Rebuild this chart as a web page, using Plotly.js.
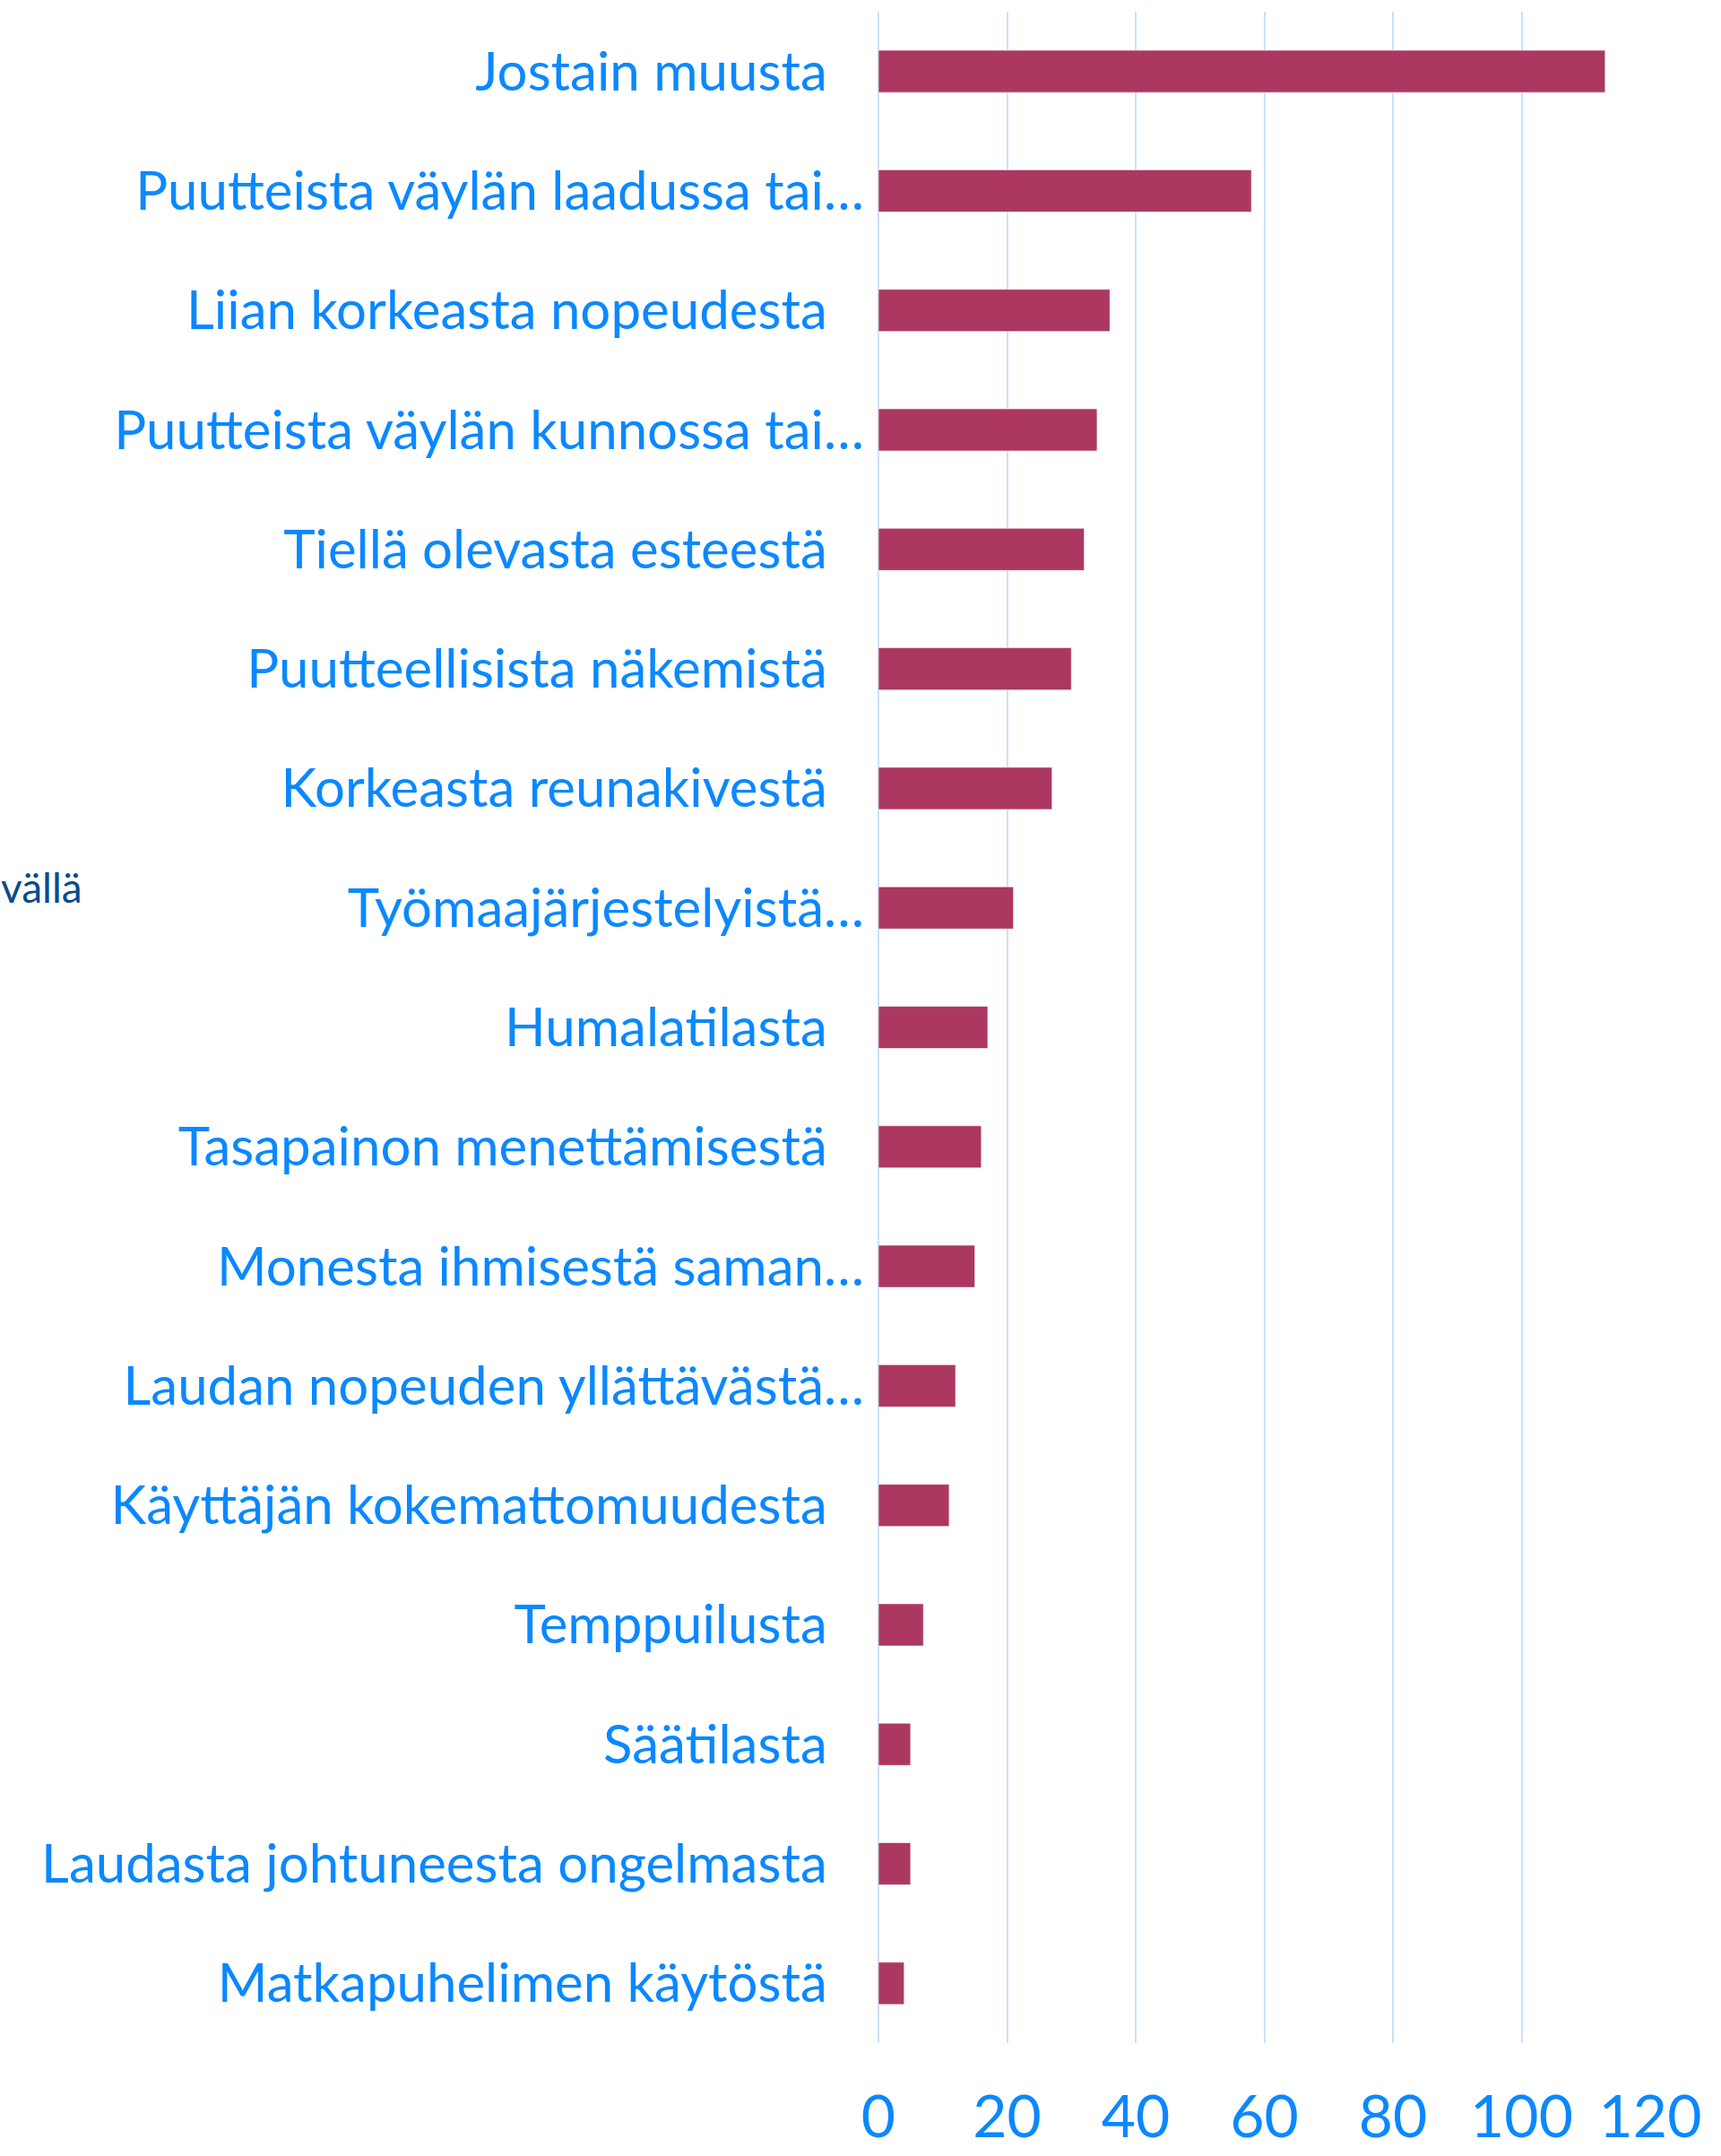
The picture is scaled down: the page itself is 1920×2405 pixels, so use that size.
<!DOCTYPE html>
<html>
<head>
<meta charset="utf-8">
<script src="https://cdn.plot.ly/plotly-3.0.1.min.js"></script>
<style>html,body{margin:0;padding:0;background:#fff;}#chart{width:1920px;height:2405px;}</style>
</head>
<body>
<div id="chart"></div>
<script>
var categories = [
  "Jostain muusta",
  "Puutteista väylän laadussa tai…",
  "Liian korkeasta nopeudesta",
  "Puutteista väylän kunnossa tai…",
  "Tiellä olevasta esteestä",
  "Puutteellisista näkemistä",
  "Korkeasta reunakivestä",
  "Työmaajärjestelyistä…",
  "Humalatilasta",
  "Tasapainon menettämisestä",
  "Monesta ihmisestä saman…",
  "Laudan nopeuden yllättävästä…",
  "Käyttäjän kokemattomuudesta",
  "Temppuilusta",
  "Säätilasta",
  "Laudasta johtuneesta ongelmasta",
  "Matkapuhelimen käytöstä"
];
var counts = [113, 58, 36, 34, 32, 30, 27, 21, 17, 16, 15, 12, 11, 7, 5, 5, 4];
var xTicks = [0, 20, 40, 60, 80, 100, 120];
var sideNote = "vällä";

// pad non-truncated labels so their right edge sits further from the axis, as in the original
var tickText = categories.map(function (c) {
  return c.slice(-1) === "…" ? c : c + "\u2002\u2009\u200a";
});

var trace = {
  type: "bar",
  orientation: "h",
  x: counts,
  y: categories,
  marker: { color: "#ac3862", line: { color: "rgba(255,255,255,0.6)", width: 1 } },
  hoverinfo: "x+y"
};

var plotW = 1920 - 980 - 79;
var plotH = 2405 - 13 - 126;

var layout = {
  width: 1920,
  height: 2405,
  margin: { l: 980, r: 79, t: 13, b: 126, pad: 0 },
  paper_bgcolor: "#ffffff",
  plot_bgcolor: "#ffffff",
  showlegend: false,
  bargap: 0.647,
  font: { family: "Lato, 'Open Sans', sans-serif", color: "#0a88ff" },
  xaxis: {
    range: [0, 120],
    tickvals: xTicks,
    ticktext: xTicks.map(String),
    showgrid: true,
    gridcolor: "#c9e2fb",
    gridwidth: 2,
    zeroline: true,
    zerolinecolor: "#c9e2fb",
    zerolinewidth: 2,
    showline: false,
    ticks: "",
    ticklabelstandoff: 38,
    tickfont: { family: "Lato, 'Open Sans', sans-serif", size: 66, color: "#0a88ff" },
    fixedrange: true
  },
  yaxis: {
    type: "category",
    autorange: "reversed",
    tickvals: categories,
    ticktext: tickText,
    showgrid: false,
    zeroline: false,
    showline: false,
    ticks: "",
    ticklabelstandoff: 15,
    tickfont: { family: "Lato, 'Open Sans', sans-serif", size: 60, color: "#0a88ff" },
    fixedrange: true
  },
  annotations: [{
    xref: "paper", yref: "paper",
    x: (94 - 980) / plotW,
    y: 1 - (989 - 13) / plotH,
    xanchor: "right", yanchor: "middle",
    text: sideNote,
    showarrow: false,
    font: { family: "Lato, 'Open Sans', sans-serif", size: 46, color: "#0b4a8c" }
  }]
};

Plotly.newPlot("chart", [trace], layout, { displayModeBar: false, staticPlot: true });
</script>
</body>
</html>
